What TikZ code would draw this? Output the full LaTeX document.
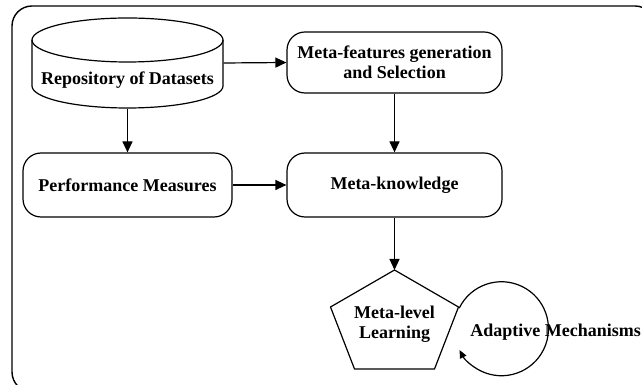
\documentclass[tikz,border=0pt]{standalone}
\usepackage{fontspec}
\setmainfont{Liberation Serif}
\usetikzlibrary{arrows.meta}
\begin{document}
\begin{tikzpicture}[x=1pt,y=1pt,
  line width=1.2pt,
  lbl/.style={font=\bfseries\fontsize{18}{20}\selectfont, align=center, inner sep=0pt},
  rbox/.style={draw, rounded corners=18pt, minimum width=#1, inner sep=0pt, font=\bfseries\fontsize{18}{20}\selectfont, align=center},
  arr/.style={-{Triangle[length=11pt,width=10pt]}},
  sarr/.style={-{Triangle[length=8pt,width=7pt]}}]
\useasboundingbox (0,0) rectangle (642,385);
\clip (0,0) rectangle (642,385);
% outer frame
\draw[line width=1.4pt, rounded corners=20pt] (12,379) rectangle (655,-7);
% cylinder
\draw (127.5,345) ellipse [x radius=95.5pt, y radius=22pt];
\draw (32,345) -- (32,299) arc[start angle=180, end angle=360, x radius=95.5pt, y radius=22pt] -- (223,345);
\node[minimum width=191pt, minimum height=90pt, inner sep=0pt] (repo) at (127.5,322) {};
\node[lbl] (repotxt) at (127.5,305) {Repository of Datasets};
% boxes
\node[rbox=215pt, minimum height=61pt] (mfg) at (394.5,322.5) {Meta-features generation\\and Selection};
\node[rbox=209pt, minimum height=64pt] (perf) at (127.5,200) {Performance Measures};
\node[rbox=215pt, minimum height=64pt] (mk) at (394.5,200) {Meta-knowledge};
% pentagon
\coordinate (ptop) at (394.5,115);
\draw (ptop) -- (458.5,78) -- (434.5,16) -- (354.5,16) -- (330.5,78) -- cycle;
\node[lbl] (mll) at (394.5,61) {Meta-level\\Learning};
% adaptive loop
\node[circle, minimum size=94pt, inner sep=0pt] (am) at (502,56) {};
\node[lbl, anchor=base east] (amtxt) at (641.5,48) {Adaptive Mechanisms};
% connectors
\draw[arr] (repo.east) -- (mfg.west);
\draw[arr] (repo.south) -- (perf.north);
\draw[arr] (perf.east) -- (mk.west);
\draw[arr] (mfg.south) -- (mk.north);
\draw[arr] (mk.south) -- (ptop);
\draw[sarr] (am.154) arc[start angle=154, end angle=-153, radius=47pt];
\end{tikzpicture}
\end{document}
